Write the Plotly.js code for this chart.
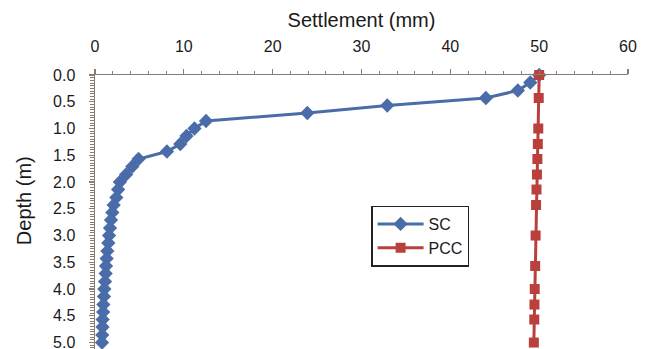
<!DOCTYPE html>
<html>
<head>
<meta charset="utf-8">
<script src="https://cdn.plot.ly/plotly-3.0.1.min.js"></script>
<style>
  html, body { margin: 0; padding: 0; overflow: hidden; background: #fff; }
  #chart { width: 649px; height: 365px; }
</style>
</head>
<body>
<div id="chart"></div>
<script>
// Settlement profiles with depth
const scDepth = [0, 0.14, 0.29, 0.43, 0.57, 0.71, 0.86, 1.0, 1.14, 1.29, 1.43, 1.57, 1.71, 1.86, 2.0,
                 2.14, 2.29, 2.43, 2.57, 2.71, 2.86, 3.0, 3.14, 3.29, 3.43, 3.57, 3.71, 3.86, 4.0,
                 4.14, 4.29, 4.43, 4.57, 4.71, 4.86, 5.0];
const scSettlement = [50.0, 49.0, 47.6, 44.0, 32.9, 23.9, 12.5, 11.2, 10.3, 9.6, 8.1, 4.9, 4.2, 3.5, 2.8,
                      2.6, 2.4, 2.1, 1.95, 1.8, 1.69, 1.58, 1.5, 1.39, 1.31, 1.24, 1.2, 1.13, 1.05,
                      1.01, 0.94, 0.92, 0.86, 0.85, 0.82, 0.79];

const pccDepth = [0, 0.43, 1.0, 1.29, 1.57, 1.86, 2.14, 2.43, 3.0, 3.57, 4.0, 4.29, 4.57, 5.0];
const pccSettlement = [50.0, 49.95, 49.9, 49.85, 49.8, 49.75, 49.7, 49.65, 49.6, 49.55, 49.5, 49.47, 49.45, 49.4];

const xTitle = 'Settlement (mm)';
const yTitle = 'Depth (m)';

const axisColor = '#8a7c72';
const fontFamily = 'Arial, "Liberation Sans", sans-serif';

const traces = [
  {
    name: 'SC', x: scSettlement, y: scDepth, type: 'scatter', mode: 'lines+markers',
    line: { color: '#4a6ca8', width: 3 },
    marker: { symbol: 'diamond', size: 11, color: '#4a6ca8' },
    cliponaxis: false
  },
  {
    name: 'PCC', x: pccSettlement, y: pccDepth, type: 'scatter', mode: 'lines+markers',
    line: { color: '#b9403d', width: 3 },
    marker: { symbol: 'square', size: 10, color: '#b9403d' },
    cliponaxis: false
  }
];

// the drawing runs a little past the visible window so the depth axis continues below 5.0
const layout = {
  width: 649, height: 365,
  margin: { l: 95, r: 21, t: 75, b: 0 },
  paper_bgcolor: '#fff', plot_bgcolor: '#fff',
  font: { family: fontFamily, color: '#1a1a1a' },
  showlegend: true,
  legend: {
    x: 0.518, y: 0.55, xanchor: 'left', yanchor: 'top',
    bordercolor: '#222', borderwidth: 1.5, bgcolor: '#fff',
    font: { size: 16, family: fontFamily, color: '#1a1a1a' },
    itemwidth: 46,
    tracegroupgap: 0
  },
  xaxis: {
    side: 'top', range: [0, 60], dtick: 10, tick0: 0,
    showgrid: false, zeroline: false,
    showline: true, linecolor: axisColor, linewidth: 1.5,
    ticks: 'outside', ticklen: 5, tickwidth: 1.2, tickcolor: axisColor,
    ticklabelstandoff: 10,
    tickfont: { size: 16, family: fontFamily, color: '#1a1a1a' },
    minor: { dtick: 2, ticks: 'outside', ticklen: 3, tickwidth: 1, tickcolor: axisColor, showgrid: false },
    title: { text: xTitle, font: { size: 20, family: fontFamily, color: '#1a1a1a' }, standoff: 5 },
    fixedrange: true
  },
  yaxis: {
    range: [5.42, 0], dtick: 0.5, tick0: 0, tickformat: '.1f',
    showgrid: false, zeroline: false,
    showline: true, linecolor: axisColor, linewidth: 1.5,
    ticks: 'outside', ticklen: 5, tickwidth: 1.2, tickcolor: axisColor,
    ticklabelstandoff: 10,
    tickfont: { size: 16, family: fontFamily, color: '#1a1a1a' },
    minor: { dtick: 0.05, ticks: 'outside', ticklen: 4, tickwidth: 1, tickcolor: axisColor, showgrid: false },
    fixedrange: true
  },
  annotations: [
    {
      text: yTitle, xref: 'paper', yref: 'paper', x: -0.134, y: 0.567,
      xanchor: 'center', yanchor: 'middle', textangle: -90, showarrow: false,
      font: { size: 20, family: fontFamily, color: '#1a1a1a' }
    }
  ]
};

Plotly.newPlot('chart', traces, layout, { staticPlot: true, displayModeBar: false });
</script>
</body>
</html>
